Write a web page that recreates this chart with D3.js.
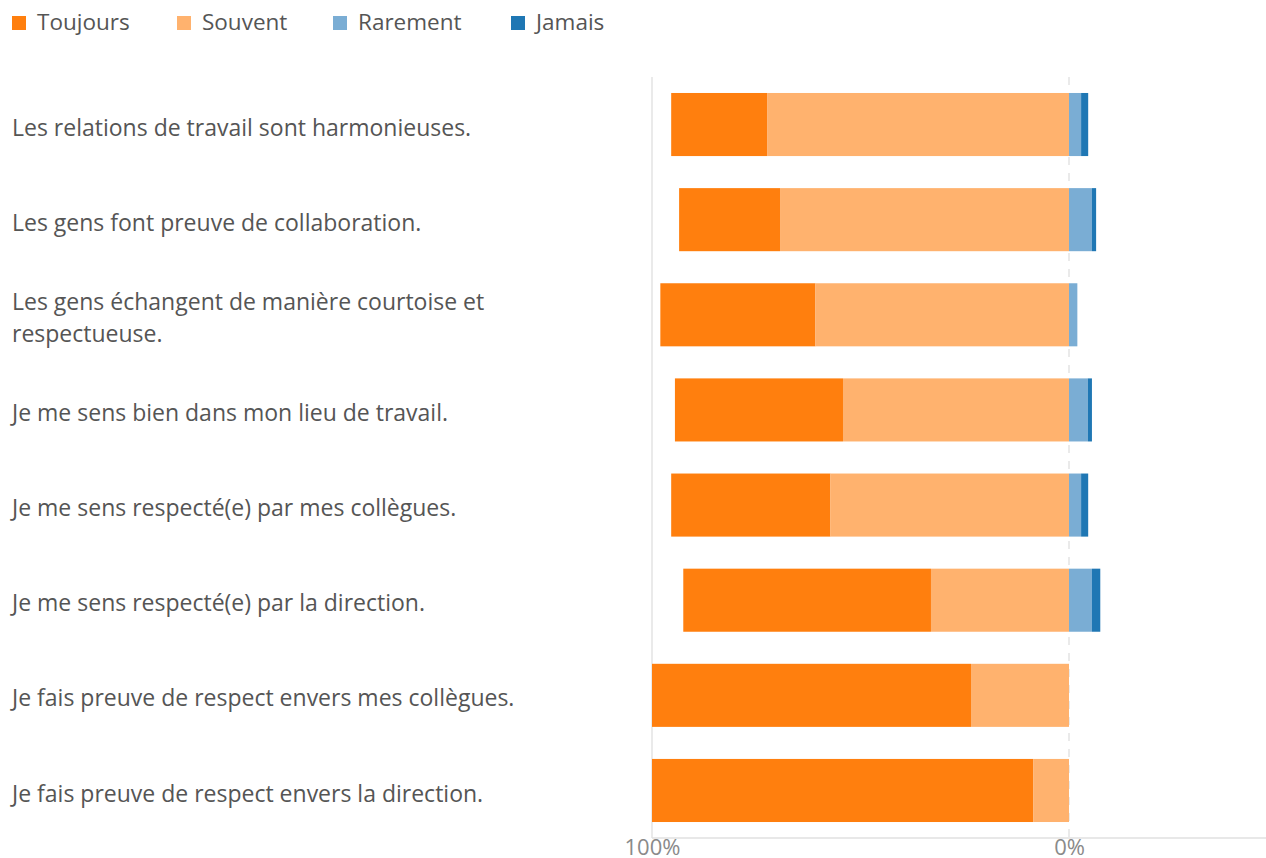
<!DOCTYPE html>
<html>
<head>
<meta charset="utf-8">
<script src="https://cdn.jsdelivr.net/npm/d3@7"></script>
<style>
  body { margin: 0; background: #fff; }
  svg { font-family: "Open Sans", sans-serif; }
</style>
</head>
<body>
<svg width="1266" height="858"></svg>
<script>
var questions = [
  "Les relations de travail sont harmonieuses.",
  "Les gens font preuve de collaboration.",
  "Les gens échangent de manière courtoise et respectueuse.",
  "Je me sens bien dans mon lieu de travail.",
  "Je me sens respecté(e) par mes collègues.",
  "Je me sens respecté(e) par la direction.",
  "Je fais preuve de respect envers mes collègues.",
  "Je fais preuve de respect envers la direction."
];
var keys = ["Toujours", "Souvent", "Rarement", "Jamais"];
var colors = ["#ff7f0e", "#ffb26e", "#7aadd4", "#1f77b4"];

var toujours = [23.1, 24.2, 37.2, 40.3, 38.2, 59.4, 76.5, 91.4];
var souvent  = [72.3, 69.3, 60.8, 54.2, 57.2, 33.1, 23.5,  8.6];
var rarement = [ 2.9,  5.5,  2.0,  4.5,  2.9,  5.5,  0,    0  ];
var jamais   = [ 1.7,  1.0,  0,    1.0,  1.7,  2.0,  0,    0  ];

var tickValues = [-100, 0];
var tickLabels = ["100%", "0%"];

var svg = d3.select("svg"),
    margin = {top: 77, right: 0, bottom: 20, left: 652},
    width = +svg.attr("width") - margin.left - margin.right,
    height = +svg.attr("height") - margin.top - margin.bottom;

// negative side: Toujours then Souvent toward zero; positive side: Rarement then Jamais
var rows = questions.map(function(q, i) {
  return {
    q: q,
    segs: [
      {key: "Toujours", x0: -(toujours[i] + souvent[i]), x1: -souvent[i]},
      {key: "Souvent", x0: -souvent[i], x1: 0},
      {key: "Rarement", x0: 0, x1: rarement[i]},
      {key: "Jamais", x0: rarement[i], x1: rarement[i] + jamais[i]}
    ]
  };
});

var x = d3.scaleLinear().domain([-100, 47.24]).range([0, width]);
var y = d3.scaleBand().domain(questions).range([0, height])
    .paddingInner(0.337).paddingOuter(0.168);
var color = d3.scaleOrdinal().domain(keys).range(colors);

var g = svg.append("g")
    .attr("transform", "translate(" + margin.left + "," + margin.top + ")");

// grid lines
g.append("line")
    .attr("x1", x(-100)).attr("x2", x(-100))
    .attr("y1", 0).attr("y2", height)
    .attr("stroke", "#e3e3e3").attr("stroke-width", 1.5);

g.append("line")
    .attr("x1", x(0)).attr("x2", x(0))
    .attr("y1", 0).attr("y2", height)
    .attr("stroke", "#e3e3e3").attr("stroke-width", 1.5)
    .attr("stroke-dasharray", "8,8");

// bars
var row = g.selectAll(".row")
    .data(rows)
  .enter().append("g")
    .attr("class", "row")
    .attr("transform", function(d) { return "translate(0," + y(d.q) + ")"; });

row.selectAll("rect")
    .data(function(d) { return d.segs.filter(function(s) { return s.x1 > s.x0; }); })
  .enter().append("rect")
    .attr("x", function(d) { return x(d.x0); })
    .attr("width", function(d) { return x(d.x1) - x(d.x0); })
    .attr("height", y.bandwidth())
    .attr("fill", function(d) { return color(d.key); });

// x axis
var xAxis = d3.axisBottom(x)
    .tickValues(tickValues)
    .tickSize(0)
    .tickFormat(function(d, i) { return tickLabels[i]; });

var ax = g.append("g")
    .attr("transform", "translate(0," + height + ")")
    .call(xAxis);
ax.select(".domain").attr("stroke", "#e0e0e0").attr("stroke-width", 1.5)
    .attr("d", "M" + x(-100) + ",0H" + width);
ax.selectAll("text")
    .attr("y", 17)
    .attr("dy", 0)
    .style("font-family", "\"Open Sans\", sans-serif")
    .style("font-size", "22px")
    .attr("fill", "#8a8a8a");

// category labels, wrapped
var labels = svg.append("g");
questions.forEach(function(q) {
  var t = labels.append("text")
      .attr("x", 12)
      .style("font-size", "23px")
      .attr("fill", "#555");
  var words = q.split(" "), line = [], lines = [];
  var probe = t.append("tspan");
  words.forEach(function(w) {
    line.push(w);
    probe.text(line.join(" "));
    if (probe.node().getComputedTextLength() > 570 && line.length > 1) {
      line.pop();
      lines.push(line.join(" "));
      line = [w];
    }
  });
  lines.push(line.join(" "));
  probe.remove();
  var lh = 32,
      cy = margin.top + y(q) + y.bandwidth() / 2 + 3 - (lines.length - 1) * lh / 2;
  lines.forEach(function(l, i) {
    t.append("tspan")
        .attr("x", 12)
        .attr("y", cy + i * lh)
        .attr("dy", "0.35em")
        .text(l);
  });
});

// legend
var legend = svg.append("g").attr("transform", "translate(12,16)");
var legendX = [0, 165, 321, 499];
keys.forEach(function(k, i) {
  var it = legend.append("g").attr("transform", "translate(" + legendX[i] + ",0)");
  it.append("rect").attr("width", 14).attr("height", 14).attr("fill", color(k));
  it.append("text")
      .attr("x", 25).attr("y", 13.5)
      .style("font-size", "22.5px")
      .attr("fill", "#555")
      .text(k);
});
</script>
</body>
</html>
